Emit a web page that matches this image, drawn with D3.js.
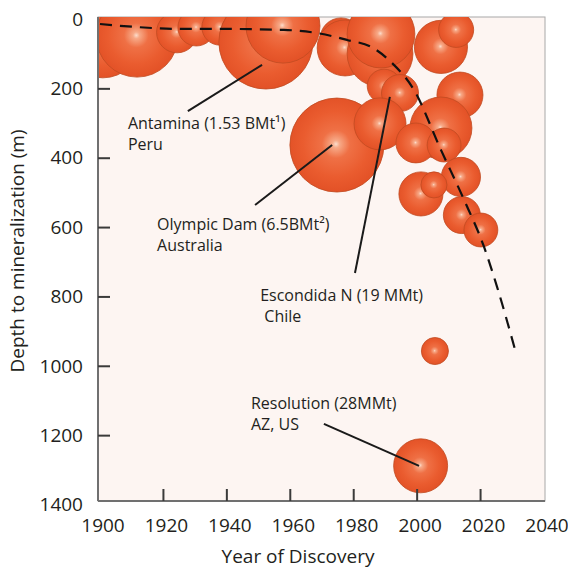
<!DOCTYPE html>
<html>
<head>
<meta charset="utf-8">
<script src="https://cdn.jsdelivr.net/npm/d3@7"></script>
<style>
  body { margin: 0; background: #fff; }
  text { font-family: "Open Sans", sans-serif; fill: #231f20; }
</style>
</head>
<body>
<svg id="chart" width="568" height="571"></svg>
<script>
// deposits, listed in drawing order (later ones sit on top)
const depositYear  = [1900.9, 1911.7, 1924.3, 1930.4, 1937.8, 1944.1, 1952.3, 1957.7, 1976, 1977.3, 1988.3, 1988.6,
                      2007.5, 2012.3, 1989.6, 1994.6, 1974.7, 1988.3, 2013.5, 2007.5, 1999.6, 2008.5, 2013.8,
                      2001.2, 2005.3, 2014.1, 2020.1, 2005.6, 2001.1];
const depositDepth = [59, 48, 37, 23, 22, 30, 65, 19, 56, 82, 99, 42,
                      79, 30, 192, 212, 362, 301, 218, 313, 356, 362, 454,
                      503, 477, 564, 607, 956, 1287];
// relative bubble size (area index, 100 = largest)
const depositSize  = [65, 76, 19, 15.5, 14.7, 14.7, 100, 62, 20, 35.5, 49, 52,
                      32, 13.9, 13, 15.5, 100, 30.6, 24, 43.5, 18, 13, 17.4,
                      22, 7.7, 15.5, 13, 8.3, 33];

// dashed trend of discovery depth
const trendYear  = [1900, 1912, 1924.6, 1935.3, 1958, 1968.4, 1977.9, 1985.5, 1991.8, 1999, 2007.5, 2014.8, 2021.1, 2025.2, 2030.9];
const trendDepth = [13, 22, 27, 27, 30, 39, 59, 79, 123, 203, 376, 520, 656, 771, 953];

const xTicks = [1900, 1920, 1940, 1960, 1980, 2000, 2020, 2040];
const yTicks = [0, 200, 400, 600, 800, 1000, 1200, 1400];

// call-outs: text lines, text anchor (year, depth), leader line from/to (year, depth)
const noteLines = [["Antamina (1.53 BMt\u00b9)", "Peru"],
                   ["Olympic Dam (6.5BMt\u00b2)", "Australia"],
                   ["Escondida N (19 MMt)", " Chile"],
                   ["Resolution (28MMt)", "AZ, US"]];
const noteAt    = [[1908.8, 316], [1918, 607], [1950.5, 812], [1947.6, 1123]];
const noteFrom  = [[1927.7, 264], [1948.9, 535], [1980.4, 731], [1970.6, 1166]];
const noteTo    = [[1951.1, 131], [1973.2, 362], [1991.4, 223], [2000.6, 1287]];

const svg = d3.select("#chart");
const frame = { left: 98, top: 17, right: 545, bottom: 501 };

const x = d3.scaleLinear().domain([1900, 2040]).range([100, 544]);
const y = d3.scaleLinear().domain([0, 1400]).range([19.5, 505]);
const r = d3.scaleSqrt().domain([0, 100]).range([0, 47]);

const defs = svg.append("defs");
defs.append("clipPath").attr("id", "plotClip")
    .append("rect")
    .attr("x", frame.left).attr("y", frame.top)
    .attr("width", frame.right - frame.left).attr("height", frame.bottom - frame.top);

const grad = defs.append("radialGradient").attr("id", "ball")
    .attr("cx", "49%").attr("cy", "49%").attr("r", "50%");
[[0, "#fcdccb"], [0.08, "#f7a987"], [0.3, "#ef7045"], [0.7, "#ea5c2f"], [1, "#e35227"]]
    .forEach(s => grad.append("stop").attr("offset", s[0]).attr("stop-color", s[1]));

// plot background
svg.append("rect")
    .attr("x", frame.left).attr("y", frame.top)
    .attr("width", frame.right - frame.left).attr("height", frame.bottom - frame.top)
    .attr("fill", "#fdf5f2").attr("stroke", "#a8a8a8").attr("stroke-width", 1);

// bubbles
svg.append("g").attr("clip-path", "url(#plotClip)")
    .selectAll("circle")
    .data(d3.range(depositYear.length))
    .join("circle")
    .attr("cx", i => x(depositYear[i]))
    .attr("cy", i => y(depositDepth[i]))
    .attr("r", i => r(depositSize[i]))
    .attr("fill", "url(#ball)")
    .attr("stroke", "#c04a21")
    .attr("stroke-width", 0.8);

// trend line
const trend = d3.line()
    .x(i => x(trendYear[i]))
    .y(i => y(trendDepth[i]))
    .curve(d3.curveMonotoneX);

svg.append("path")
    .attr("d", trend(d3.range(trendYear.length)))
    .attr("fill", "none")
    .attr("stroke", "#111")
    .attr("stroke-width", 2.2)
    .attr("stroke-dasharray", "12,8");

// call-outs
noteLines.forEach((lines, i) => {
    svg.append("line")
        .attr("x1", x(noteFrom[i][0])).attr("y1", y(noteFrom[i][1]))
        .attr("x2", x(noteTo[i][0])).attr("y2", y(noteTo[i][1]))
        .attr("stroke", "#1a1a1a").attr("stroke-width", 2);
    const t = svg.append("text")
        .attr("x", x(noteAt[i][0])).attr("y", y(noteAt[i][1]))
        .attr("font-size", 16);
    lines.forEach((s, j) => {
        t.append("tspan")
            .attr("x", x(noteAt[i][0]))
            .attr("dy", j === 0 ? 0 : 21)
            .attr("xml:space", "preserve")
            .text(s);
    });
});

// axes frame: darker left and bottom
svg.append("line")
    .attr("x1", frame.left).attr("x2", frame.left)
    .attr("y1", frame.top).attr("y2", frame.bottom)
    .attr("stroke", "#707070").attr("stroke-width", 2);
svg.append("line")
    .attr("x1", frame.left).attr("x2", frame.right)
    .attr("y1", frame.bottom).attr("y2", frame.bottom)
    .attr("stroke", "#707070").attr("stroke-width", 2);

// inner ticks
svg.append("g").selectAll("line")
    .data(xTicks.slice(1, -1))
    .join("line")
    .attr("x1", d => x(d)).attr("x2", d => x(d))
    .attr("y1", frame.bottom).attr("y2", frame.bottom - 12)
    .attr("stroke", "#3a3a3a").attr("stroke-width", 2);

svg.append("g").selectAll("line")
    .data(yTicks.slice(1, -1))
    .join("line")
    .attr("x1", frame.left).attr("x2", frame.left + 12)
    .attr("y1", d => y(d)).attr("y2", d => y(d))
    .attr("stroke", "#3a3a3a").attr("stroke-width", 2);

// tick labels
svg.append("g").selectAll("text")
    .data(xTicks)
    .join("text")
    .attr("x", d => x(d) + 3)
    .attr("y", 532)
    .attr("text-anchor", "middle")
    .attr("font-size", 19)
    .text(d => d);

svg.append("g").selectAll("text")
    .data(yTicks)
    .join("text")
    .attr("x", 83)
    .attr("y", d => y(d))
    .attr("dy", "0.33em")
    .attr("text-anchor", "end")
    .attr("font-size", 19)
    .text(d => d);

// axis titles
svg.append("text")
    .attr("x", 298).attr("y", 563)
    .attr("text-anchor", "middle")
    .attr("font-size", 19)
    .text("Year of Discovery");

svg.append("text")
    .attr("transform", "translate(24,251) rotate(-90)")
    .attr("text-anchor", "middle")
    .attr("font-size", 19)
    .text("Depth to mineralization (m)");
</script>
</body>
</html>
